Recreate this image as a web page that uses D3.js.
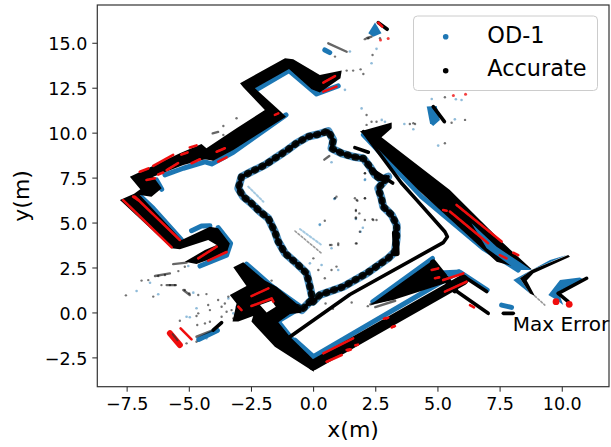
<!DOCTYPE html>
<html><head><meta charset="utf-8"><script src="https://cdn.jsdelivr.net/npm/d3@7"></script>
<style>html,body{margin:0;padding:0;background:#fff}svg{display:block}text{font-family:"DejaVu Sans",sans-serif;fill:#000}</style></head>
<body><svg id="c" width="611" height="447"></svg>
<script>
const xTicks=[-7.5,-5,-2.5,0,2.5,5,7.5,10];
const yTicks=[-2.5,0,2.5,5,7.5,10,12.5,15];
const legendLabels=["OD-1","Accurate"];
// filled outlines of the dense Accurate point cloud, in metres
const blackAreas=[
 [[-7.77,6.25],[-7.2,6.6],[-6.95,6.85],[-7.37,7.55],[-5.36,8.85],[-4.49,9.37],[-4.29,9.13],[-3.08,10.24],[-1.94,11.26],[-2.81,12.53],[-2.94,12.75],[-1.13,14.14],[-0.8,14.08],[0.27,13.21],[1.15,13.45],[1.1,13.03],[0.27,12.23],[-0.06,12.41],[-0.97,13.54],[-2.34,12.47],[-1.31,11.17],[-1.09,10.89],[-3.21,9.04],[-4.02,8.44],[-4.35,8.52],[-5.22,8.2],[-6.43,7.55],[-6.09,6.91],[-6.5,6.44],[-6.97,6.53],[-5.29,4.03],[-4.15,4.77],[-3.82,4.68],[-3.35,3.84],[-3.48,3.29],[-4.69,2.69],[-5.16,2.82],[-4.35,3.47],[-3.88,3.75],[-4.22,4.03],[-5.36,3.51],[-5.69,3.57]],
 [[1.88,10.06],[3.16,10.56],[3.16,10.24],[2.75,9.74],[5.5,6.81],[7.58,3.94],[8.79,2.4],[8.59,2.36],[7.38,2.82],[4.23,6.81],[2.02,9.92]],
 [[3.22,0.69],[2.29,0.41],[4.83,2.92],[5.1,2.45],[5.5,1.71]],
 [[8.32,1.9],[8.79,2.36],[10.26,3.2],[10.33,3.1],[8.86,2.18],[8.59,1.77],[8.92,0.91],[8.72,1.06]]
];
const centreOutline=[[-3.21,2.51],[-2.81,2.79],[-1.94,1.77],[-1.47,1.43],[-0.6,0.41],[-0.46,-0.01],[-0.93,-0.09],[-1.4,-0.55],[-0.93,-1.35],[0.03,-2.65],[0.03,-3.3],[-1.54,-1.91],[-2.48,-0.51],[-2.41,-0.2],[-3.01,-0.51],[-3.24,-0.51],[-3.08,0.5],[-3.35,0.97],[-2.68,1.47]];
const centreHole=[[-2.14,0.41],[-1.67,0.65],[-1.5,0.32],[-1.87,0]];
const blueAreas=[
 [[8.05,1.8],[9.53,2.92],[10.2,3.2],[8.79,2.36],[8.32,1.9],[8.72,1.06]],
 [[9.46,0.97],[9.93,1.8],[10.73,1.95],[10.87,1.84],[9.86,1.15],[10.06,0.41],[9.79,0.69]],
 [[2.22,15.53],[2.49,16.13],[2.75,15.53],[2.42,15.34]],
 [[4.57,11.45],[4.97,11.48],[5.1,10.71],[4.83,10.37],[4.7,10.52]]
];
const blueOverAreas=[[[6.37,4.96],[7.38,3.66],[8.79,2.36],[8.19,2.36],[6.98,3.57]]];
const blackThick=[
 [[0,-2.93],[6.04,1.81]]
];
const blackMedium=[
 [[4.83,2.77],[5.7,1.25]],
 [[3.3,4.4],[3.35,3.3]]
];
const blackThin=[
 [[2.02,10.06],[3.55,7.2],[4.16,6.26],[5.3,4.49],[5.4,4.21],[5.23,3.88],[1.48,1.0],[-0.93,-1.35]],
 [[5.97,2.08],[6.98,1.16]],
 [[5.7,1.25],[7.04,-0.05]],
 [[9.86,1.06],[11,1.9]],
 [[9.86,1.06],[10.26,0.6]],
 [[7.65,-0.05],[8.05,-0.05]],
 [[1.68,9.17],[2.22,8.91]],
 [[2.3,8.0],[2.75,7.6],[3.2,7.2]],
 [[4.83,11.45],[5.28,10.61]],
 [[2.62,16.12],[2.98,15.75]],
 [[-4.02,-0.98],[-3.68,-0.57]]
];
const blackFine=[
 [[0.61,14.97],[1.35,14.5]],
 [[-5.63,2.69],[-5.09,2.77]],
 [[-6.36,2.03],[-5.76,2.17]],
 [[-5.89,1.52],[-5.52,1.52]],
 [[-5.22,1.25],[-4.96,0.97]],
 [[-4.69,-1.35],[-4.02,-0.98]],
 [[-4.04,9.96],[-3.82,10.04]],
 [[2.15,15.25],[2.35,15.34]],
 [[0.45,8.5],[0.65,8.7]],
 [[2.3,0.45],[3.4,0.9]],
 [[2.5,0.3],[3.3,0.65]]
];
const blueWalls=[
 [[-2.31,12.37],[-0.97,13.45],[0.14,12.15],[1.01,12.6]],
 [[-1.09,10.99],[-3.21,8.91],[-4.08,8.26],[-4.35,8.38],[-5.22,8.02],[-5.96,7.65]],
 [[-6.3,7.37],[-6.09,6.85]],
 [[-6.9,6.4],[-6.43,5.79],[-5.29,4.03]],
 [[-4.89,4.55],[-4.49,4.81],[-4.15,4.82]],
 [[-3.82,4.72],[-3.32,3.84],[-3.48,3.19],[-4.55,2.58]],
 [[-2.68,2.69],[-1.67,1.47],[-0.5,0.32]],
 [[-2.34,0.32],[-2.0,-0.05]],
 [[-1.34,-0.42],[-0.67,0.13]],
 [[-1.4,-0.52],[-0.87,-1.44]],
 [[-0.73,-1.54],[0.01,-2.46],[5.85,2.25]],
 [[2.02,9.88],[4.36,6.44],[6.84,3.57],[8.25,2.36]],
 [[7.58,0.41],[7.98,0.28]],
 [[0.47,14.6],[0.67,14.45]],
 [[-4.6,-1.5],[-3.85,-1.0]],
 [[2.4,0.6],[4.8,3.0]],
 [[5.1,2.2],[5.9,2.25],[7.0,1.25]]
];
const blueFaint=[
 [[-2.61,7.0],[-2.0,6.16]],
 [[-0.53,4.64],[0.34,3.75]]
];
const greyFaint=[
 [[-0.73,4.53],[0.34,3.29]],
 [[8.92,0.91],[9.32,0.41]]
];
const redWalls=[
 [[-7.64,6.25],[-5.69,3.62]],[[-7.17,6.44],[-5.36,4.03]],
 [[-4.62,3.01],[-3.88,3.66]],[[-4.22,2.88],[-3.48,3.36]],
 [[-5.33,-0.89],[-4.89,-1.5]],
 [[-2.48,0.91],[-1.8,1.34]],[[-2.48,0.36],[-1.67,0.78],[-1.6,0.6]],[[-3.01,0.32],[-2.88,0.13]],
 [[0.41,-2.28],[1.61,-1.44]],[[0.54,-2.74],[1.15,-2.37]],[[1.35,-2.09],[1.48,-2.05]],[[2.96,-0.33],[3.02,-0.29]],[[3.16,-0.83],[3.29,-0.76]],
 [[5.23,1.8],[6.04,2.17]],[[5.3,1.16],[6.17,1.71]],[[6.31,0.41],[6.47,0.28]],
 [[2.85,-0.35],[2.93,-0.31]],[[3.18,-0.81],[3.26,-0.77]],[[1.7,-1.83],[1.8,-1.79]],[[1.4,-2.12],[1.52,-2.06]],
 [[4.77,2.36],[5.03,2.45]],[[4.9,1.9],[5.07,1.95]],
 [[5.77,5.98],[7.58,3.94]],[[5.5,5.61],[7.04,3.85]],[[8.05,3.32],[8.25,3.19]],[[7.51,3.19],[7.78,3.01]],[[5.23,5.7],[5.37,5.66]],
 [[0.41,12.78],[0.88,13.15]],[[0.41,12.28],[0.94,12.56]],[[-1.54,10.99],[-1.4,11.07]],
 [[-3.88,8.94],[-3.55,9.13]],[[-3.82,8.39],[-3.48,8.63]],[[-6.97,7.83],[-6.63,8.01]],[[-6.43,8.15],[-5.63,8.76]],
 [[-4.96,9.18],[-4.69,9.29]],[[-4.89,8.3],[-4.55,8.52]],[[-5.89,7.92],[-5.43,8.3]],[[-6.23,7.67],[-6.03,7.78]],
 [[-6.7,7.37],[-6.36,7.46]],[[-5.3,8.78],[-5.05,8.9]],[[-7.24,6.44],[-7.03,6.25]],
 [[2.62,16.12],[2.78,15.9]]
];
const redWide=[[[-5.76,-1.16],[-5.36,-1.81]]];
const redPoints=[[5.64,12.06],[6.13,12.13],[2.71,15.15],[3.02,15.24]];
const maxErrorPoints=[[9.77,0.6],[10.3,0.45]];
const innerLoop=[[3.29,3.38],[3.02,3.01],[2.15,2.17],[1.21,1.43],[0.27,0.97],[0,0.6],[-0.13,1.43],[-0.26,2.17],[-0.6,2.64],[-1.13,3.29],[-1.4,3.94],[-1.54,4.49],[-1.8,5.23],[-2.14,5.61],[-2.48,6.07],[-2.81,6.44],[-3.01,6.9],[-2.88,7.55],[-2.48,7.83],[-1.94,8.2],[-1.54,8.57],[-1.13,8.94],[-0.67,9.41],[-0.2,9.78],[0.21,9.91],[0.61,10.09],[0.81,9.59],[0.74,9.13],[1.15,8.85],[1.61,8.66],[2.02,8.57],[2.28,8.11],[2.49,7.65],[2.75,7.37],[3.02,7.55],[2.62,6.9],[2.75,6.35],[2.82,5.88],[3.16,5.42],[3.36,4.86],[3.36,4.12],[3.29,3.38]];
const loopBranch=[[-0.13,0.6],[-0.46,0.13],[-0.67,0.3]];
const greyPoints=[[-7.53,0.95],[-6.43,0.88],[-6.9,1.77],[-6.63,1.8],[-6.23,2.03],[-5.96,2.08],[-5.42,2.3],[-5.16,2.54],[-5.76,1.52],[-5.56,1.52],[-6.1,1.52],[-5.16,1.25],[-4.98,1.06],[-4.62,0.97],[-4.29,1.02],[-3.82,0.69],[-3.41,0.88],[-3.55,0.5],[-3.68,0.32],[-4.22,0.41],[-4.15,0.13],[-4.62,-0.05],[-4.69,-0.2],[-3.48,0.04],[-3.28,0.13],[-3.68,-0.24],[-3.21,-0.33],[-4.35,-0.61],[-4.15,-0.52],[-4.66,-0.7],[-5.36,-0.46],[-5.09,-1.72],[-4.69,-1.63],[0.47,5.1],[0.47,1.9],[0.21,2.36],[0.01,3.01],[1.01,3.84],[0.68,3.75],[0.74,2.36],[0.94,2.55],[-1.67,1.77],[1.61,13.45],[1.91,13.52],[2.02,13.26],[2.39,14.32],[2.69,15.25],[2.22,15.25],[2.08,15.2],[2.15,10.98],[5.3,11.97],[5.57,10.55],[6.11,10.71],[4.03,10.52],[3.89,10.48],[4.1,10.48],[5.3,9.41],[2.08,7.74],[1.68,6.35],[2.08,6.35],[2.15,10.43],[2.35,10.61],[2.55,10.61],[1.35,13.45],[0.88,14.23],[0.88,6.35],[-3.08,10.8],[-3.61,10.37],[-3.61,9.87],[1.75,6.26],[1.72,5.7],[1.86,5.51],[1.72,5.23],[2.08,5.14],[2.39,5.18],[2.55,5.14],[1.88,4.49],[1.72,3.84],[0.94,6.44],[1.78,6.21],[2.09,6.35],[1.72,5.64],[1.72,5.29],[2.42,5.14],[1.75,3.84],[1.01,3.75],[0.74,3.75],[2.09,7.74],[0.8,0.2],[1.2,0.7],[0.5,0.5],[1.55,0.55],[2.2,0.35]];
const bluePoints=[[-7.1,1.19],[-6.23,1.01],[-6.56,1.65],[-5.02,2.58],[-4.82,1.1],[-4.69,0.23],[-5.09,-0.24],[-4.96,-0.27],[-4.29,-1.44],[0.88,6.35],[0.27,4.86],[0.74,3.57],[0.34,2.64],[-0.13,2.73],[1.01,2.36],[-3.21,-0.05],[-3.08,0.32],[-3.41,0.78],[1.48,14.51],[1.95,11.35],[4.77,11.87],[5.97,11.82],[5.74,11.86],[5.7,10.74],[3.67,10.48],[4.03,10.19],[5.03,9.28],[2.08,7.37],[2.76,10.71],[2.89,10.61],[1.28,12.38],[0.74,8.35],[2.35,13.86],[2.55,14.66],[2.0,4.71],[0.85,6.31],[1.72,5.2],[0.27,4.9],[1.91,4.49],[2.09,7.4],[1.1,0.6],[0.9,0.45]];

const W=611,H=447,L=97.3,R=609,T=5,B=386.7;
const x=d3.scaleLinear().domain([-8.68,11.9]).range([L,R]);
const y=d3.scaleLinear().domain([-4.13,17.1]).range([B,T]);
const svg=d3.select("#c");
const line=d3.line().x(d=>x(d[0])).y(d=>y(d[1]));
const defs=svg.append("defs");
defs.append("clipPath").attr("id","plot").append("rect").attr("x",L).attr("y",T).attr("width",R-L).attr("height",B-T);
defs.append("filter").attr("id","soft").attr("x","-5%").attr("y","-5%").attr("width","110%").attr("height","110%").append("feGaussianBlur").attr("stdDeviation",0.6);
const marks=svg.append("g").attr("clip-path","url(#plot)").append("g").attr("filter","url(#soft)");
const blue="#1f77b4",red="#f01010";
function areas(data,color,op=1){marks.append("g").selectAll("path").data(data).join("path").attr("d",d=>line(d)+"Z").attr("fill",color).attr("fill-opacity",op).attr("fill-rule","evenodd");}
function walls(data,color,w,op=1,cap="round",dash=null){marks.append("g").selectAll("path").data(data).join("path").attr("d",line).attr("fill","none").attr("stroke",color).attr("stroke-width",w).attr("stroke-opacity",op).attr("stroke-linecap",cap).attr("stroke-linejoin","round").attr("stroke-dasharray",dash);}
function dots(data,color,r,op=1){marks.append("g").selectAll("circle").data(data).join("circle").attr("cx",d=>x(d[0])).attr("cy",d=>y(d[1])).attr("r",r).attr("fill",color).attr("fill-opacity",op);}

areas(blueAreas,blue);
walls(blueWalls,blue,5);
walls(blueFaint,blue,2,0.4,"round","2 2");
walls([innerLoop,loopBranch],blue,8,0.8);
dots(bluePoints,blue,1.3,0.5);
dots(greyPoints,"#000",1.2,0.55);
walls(greyFaint,"#000",1.6,0.4,"round","2 2");
areas(blackAreas,"#000");
marks.append("path").attr("d",line(centreOutline)+"Z"+line(centreHole)+"Z").attr("fill","#000").attr("fill-rule","evenodd");
walls(blackThick,"#000",10.5);
walls(blackMedium,"#000",6.5);
walls(blackThin,"#000",3.6);
walls(blackFine,"#000",2.4,0.6);
walls([innerLoop,loopBranch],"#000",3.4,0.9);
walls([innerLoop,loopBranch],"#000",7.2,0.9,"round","1 7");
areas(blueOverAreas,blue);
walls(redWalls,red,2.6);
walls(redWide,red,6);
walls([[[-5.65,-1.2],[-5.45,-1.55]]],"#333",2,0.7);
dots(redPoints,red,1.5,0.8);
dots(maxErrorPoints,red,3.4);

svg.append("text").attr("x",x(8.03)).attr("y",y(-1.02)).attr("font-size",20).text("Max Error");

const ax=svg.append("g");
const xAxis=d3.axisBottom(x).tickValues(xTicks).tickFormat(d3.format(".1f")).tickSize(5).tickPadding(6);
const yAxis=d3.axisLeft(y).tickValues(yTicks).tickFormat(d3.format(".1f")).tickSize(5).tickPadding(5);
const gx=ax.append("g").attr("transform",`translate(0,${B})`).call(xAxis);
const gy=ax.append("g").attr("transform",`translate(${L},0)`).call(yAxis);
for(const g of [gx,gy]){g.select(".domain").remove();g.selectAll("line").attr("stroke","#222").attr("stroke-width",1);g.selectAll("text").attr("font-size",17.5).attr("font-family",'"DejaVu Sans"').attr("fill","#111");}
gy.selectAll("text").attr("dy","0.4em");
ax.append("rect").attr("x",L).attr("y",T).attr("width",R-L).attr("height",B-T).attr("fill","none").attr("stroke","#333").attr("stroke-width",1.2);

svg.append("text").attr("x",(L+R)/2).attr("y",437).attr("text-anchor","middle").attr("font-size",22).text("x(m)");
svg.append("text").attr("transform",`translate(29,${(T+B)/2}) rotate(-90)`).attr("text-anchor","middle").attr("font-size",22).text("y(m)");

const lg=svg.append("g");
lg.append("rect").attr("x",413.5).attr("y",16).attr("width",184).attr("height",74.5).attr("rx",4).attr("fill","#fff").attr("fill-opacity",0.8).attr("stroke","#ccc").attr("stroke-width",1);
const legendColors=[blue,"#000"];
legendLabels.forEach((t,i)=>{
 lg.append("circle").attr("cx",445.7).attr("cy",36.7+i*34).attr("r",2.8).attr("fill",legendColors[i]);
 lg.append("text").attr("x",487.3).attr("y",43.3+i*33).attr("font-size",22.4).text(t);
});
</script></body></html>
